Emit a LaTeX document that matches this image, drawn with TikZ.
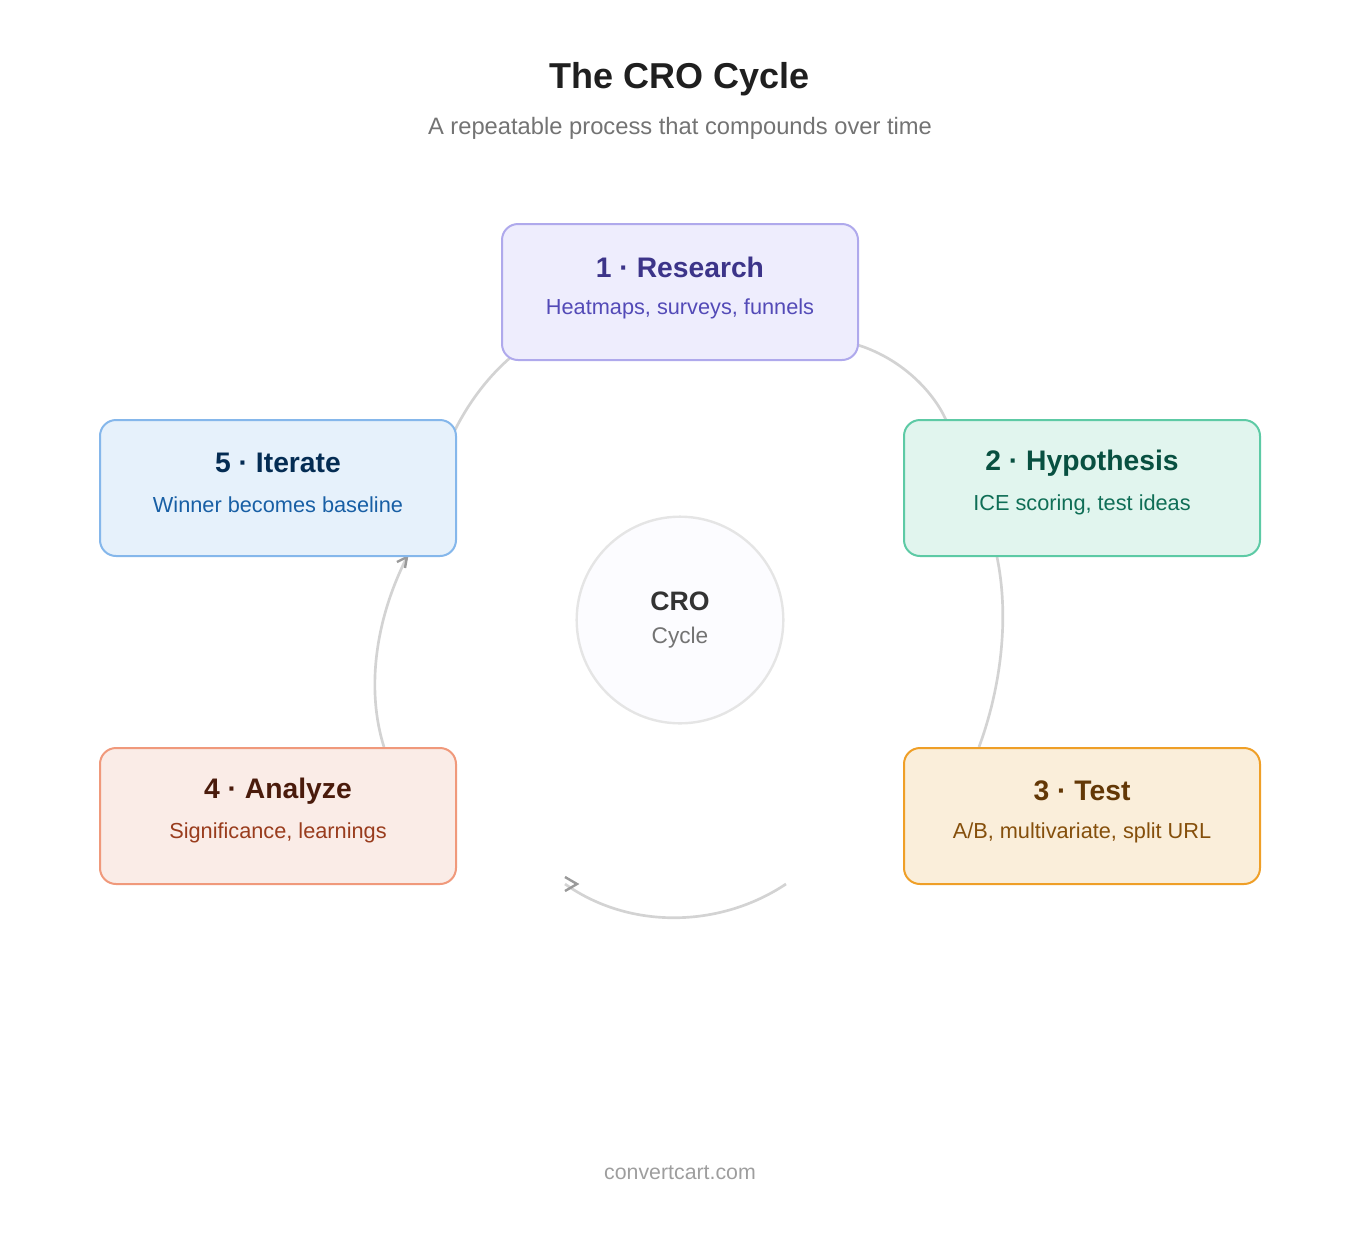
\documentclass[tikz,border=0pt]{standalone}
\usepackage{fontspec}
\setmainfont{Liberation Sans}
\usetikzlibrary{arrows.meta}
\definecolor{pF}{HTML}{EEEDFD}\definecolor{pB}{HTML}{AFA9EC}\definecolor{pT}{HTML}{3C3489}\definecolor{pS}{HTML}{534AB7}
\definecolor{gF}{HTML}{E1F5EE}\definecolor{gB}{HTML}{5DCAA5}\definecolor{gT}{HTML}{085041}\definecolor{gS}{HTML}{0F6E56}
\definecolor{oF}{HTML}{FAEEDA}\definecolor{oB}{HTML}{EF9F27}\definecolor{oT}{HTML}{633806}\definecolor{oS}{HTML}{854F0B}
\definecolor{rF}{HTML}{FAECE7}\definecolor{rB}{HTML}{F0997B}\definecolor{rT}{HTML}{4A1B0C}\definecolor{rS}{HTML}{993C1D}
\definecolor{bF}{HTML}{E6F1FB}\definecolor{bB}{HTML}{85B7EB}\definecolor{bT}{HTML}{042C53}\definecolor{bS}{HTML}{185FA5}
\definecolor{arc}{HTML}{D3D3D3}\definecolor{tip}{HTML}{9A9A9A}
\tikzset{
 box/.style={draw, line width=1.5pt, rounded corners=12pt, minimum width=267pt, minimum height=102pt},
 ttl/.style={font=\bfseries\fontsize{21.2}{25}\selectfont},
 sub/.style={font=\fontsize{16.3}{19}\selectfont},
 arcl/.style={draw=arc, line width=2pt},
}
\begin{document}
\begin{tikzpicture}[x=0.75pt,y=-0.75pt]
\path[use as bounding box] (0,0) rectangle (1360,1240);
\node[font=\bfseries\fontsize{27}{32}\selectfont, text=black!88] (title) at (680,79) {The CRO Cycle};
\node[font=\fontsize{17.8}{21}\selectfont, text=black!55] (subt) at (680,128) {A repeatable process that compounds over time};
% arcs
\coordinate (a1s) at (858,345); \coordinate (a1e) at (946,420);
\coordinate (a2s) at (997,557); \coordinate (a2e) at (979,747);
\coordinate (a3s) at (565,884); \coordinate (a3e) at (786,884);
\coordinate (a4s) at (384,747); \coordinate (a4e) at (407,557);
\coordinate (a5s) at (455,430); \coordinate (a5e) at (511,357);
\draw[arcl] (a1s) .. controls (905,360) and (935,395) .. (a1e);
\draw[arcl] (a2s) .. controls (1010,620) and (1000,690) .. (a2e);
\draw[arcl] (a3e) .. controls (720,928) and (630,930) .. (a3s);
\draw[tip, line width=1.8pt] (565,877) -- (577,884) -- (565,891);
\draw[arcl] (a4s) .. controls (366,690) and (375,620) .. (a4e);
\draw[tip, line width=1.8pt] (397,562) -- (407,557) -- (405,568);
\draw[arcl] (a5s) .. controls (470,400) and (490,375) .. (a5e);
% boxes
\node[box, fill=pF, draw=pB] (r) at (680,292) {};
\node[ttl, text=pT] (rt) at (680,267) {1 · Research};
\node[sub, text=pS] (rs) at (680,309) {Heatmaps, surveys, funnels};
\node[box, fill=gF, draw=gB] (h) at (1082,488) {};
\node[ttl, text=gT] (ht) at (1082,463) {2 · Hypothesis};
\node[sub, text=gS] (hs) at (1082,505) {ICE scoring, test ideas};
\node[box, fill=oF, draw=oB] (t) at (1082,816) {};
\node[ttl, text=oT] (tt) at (1082,791) {3 · Test};
\node[sub, text=oS] (ts) at (1082,833) {A/B, multivariate, split URL};
\node[box, fill=rF, draw=rB] (a) at (278,816) {};
\node[ttl, text=rT] (at) at (278,791) {4 · Analyze};
\node[sub, text=rS] (as) at (278,833) {Significance, learnings};
\node[box, fill=bF, draw=bB] (i) at (278,488) {};
\node[ttl, text=bT] (it) at (278,463) {5 · Iterate};
\node[sub, text=bS] (is) at (278,505) {Winner becomes baseline};
% center
\node[circle, draw=black!10, line width=1.8pt, fill=black!3!blue!1, minimum size=155pt] (c) at (680,620) {};
\node[font=\bfseries\fontsize{20}{24}\selectfont, text=black!80] (c1) at (680,601) {CRO};
\node[font=\fontsize{17}{20}\selectfont, text=black!55] (c2) at (680,638) {Cycle};
\node[font=\fontsize{16}{19}\selectfont, text=black!38] (f) at (680,1173) {convertcart.com};
\end{tikzpicture}
\end{document}
